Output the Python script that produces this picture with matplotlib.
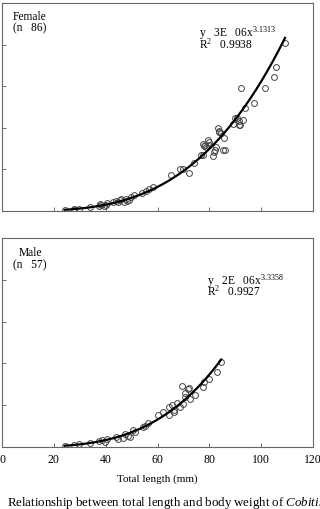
import numpy as np
import matplotlib
matplotlib.use("Agg")
import matplotlib.pyplot as plt

plt.rcParams["font.family"] = "Liberation Serif"
plt.rcParams["mathtext.fontset"] = "custom"
plt.rcParams["mathtext.rm"] = "Liberation Serif"
plt.rcParams["mathtext.it"] = "Liberation Serif:italic"

# Female: total length (mm) vs body weight (g)
female_len = [24.2, 27.7, 27.7, 29.7, 34.1, 37.4, 37.7, 38.3, 39.2, 40.0, 40.5,
              42.8, 43.8, 44.9, 45.4, 46.0, 46.9, 47.7, 48.2, 49.0, 49.9, 50.8,
              54.1, 55.6, 56.7, 58.2, 65.1, 68.7, 70.0, 72.0, 74.2, 76.7, 77.4,
              77.7, 78.0, 78.5, 78.7, 79.4, 79.7, 80.0, 81.5, 81.9, 82.3, 82.6,
              83.2, 83.6, 83.8, 84.4, 85.1, 85.8, 86.2, 89.0, 90.0, 90.5, 91.3,
              91.5, 91.8, 92.2, 93.1, 93.6, 97.2, 101.4, 105.0, 105.8, 109.2]
female_wt = [0.05, 0.10, 0.05, 0.11, 0.17, 0.25, 0.33, 0.30, 0.25, 0.29, 0.37,
             0.43, 0.46, 0.43, 0.52, 0.56, 0.44, 0.59, 0.49, 0.52, 0.65, 0.78,
             0.87, 0.97, 1.06, 1.14, 1.75, 2.02, 2.03, 1.84, 2.30, 2.67, 2.71,
             3.22, 3.11, 3.19, 3.06, 3.41, 3.30, 3.19, 2.65, 2.83, 2.94, 3.06,
             3.98, 3.78, 3.86, 3.73, 2.94, 3.51, 2.95, 4.17, 4.49, 4.49, 4.14,
             4.33, 4.14, 5.89, 4.37, 4.97, 5.21, 5.89, 6.44, 6.94, 8.08]

# Male
male_len = [24.2, 27.7, 29.7, 34.1, 37.4, 38.5, 39.6, 40.5, 43.8, 44.9, 46.7,
            47.6, 48.6, 49.2, 50.5, 51.5, 54.4, 55.3, 56.2, 60.1, 62.3, 64.4,
            64.6, 65.6, 66.2, 66.5, 67.6, 68.5, 69.6, 70.0, 70.8, 70.8, 71.7,
            72.3, 72.6, 74.6, 77.4, 78.1, 79.7, 82.9, 84.6]
male_wt = [0.06, 0.10, 0.14, 0.21, 0.29, 0.33, 0.25, 0.38, 0.49, 0.40, 0.44,
           0.60, 0.52, 0.48, 0.83, 0.70, 0.95, 1.00, 1.16, 1.54, 1.68, 1.51,
           1.90, 2.03, 1.75, 1.67, 2.10, 1.90, 2.92, 2.06, 2.38, 2.57, 2.76,
           2.83, 2.30, 2.49, 2.86, 3.10, 3.25, 3.60, 4.05]

panels = [
    (female_len, female_wt, "Female", "(n   86)", "3E", "3.1313", "0.9938"),
    (male_len, male_wt, "Male", "(n   57)", "2E", "3.3358", "0.9927"),
]

fig = plt.figure(figsize=(3.2, 5.09), dpi=100)
W, H = 320.0, 509.0
ax_top = fig.add_axes([2 / W, 1 - 211 / H, 311 / W, 208 / H])
ax_bot = fig.add_axes([2 / W, 1 - 447 / H, 311 / W, 209 / H])

for ax, (xs, ys, *_rest) in zip([ax_top, ax_bot], panels):
    xs = np.array(xs)
    ys = np.array(ys)
    ax.plot(xs, ys, "o", ms=4.2, mfc="none", mec="#444444", mew=0.7)
    # power trend line fitted on log-log
    b, lna = np.polyfit(np.log(xs), np.log(ys), 1)
    xx = np.linspace(xs.min(), xs.max(), 200)
    ax.plot(xx, np.exp(lna) * xx ** b, color="black", lw=1.6)
    ax.set_xlim(0, 120)
    ax.set_ylim(0, 10)
    ax.set_xticks([0, 20, 40, 60, 80, 100, 120])
    ax.set_yticks([0, 2, 4, 6, 8, 10])
    ax.tick_params(direction="in", length=3, width=0.6, color="#555555",
                   labelleft=False, labelsize=8.5, pad=5)
    for s in ax.spines.values():
        s.set_color("#666666")
        s.set_linewidth(0.8)

ax_top.tick_params(labelbottom=False)
ax_bot.set_xlabel("Total length (mm)", fontsize=8, labelpad=6)

def ftxt(x, y, s, size=8.3):
    fig.text(x / W, 1 - y / H, s, fontsize=size, va="baseline", ha="left")

ftxt(13, 19.5, panels[0][2])
ftxt(13, 31, panels[0][3])
ftxt(199, 37, "y   %s   06x$^{\\mathregular{%s}}$" % (panels[0][4], panels[0][5]))
ftxt(199, 49, "R$^{\\mathregular{2}}$   %s" % panels[0][6])

ftxt(19, 256.5, panels[1][2])
ftxt(13, 268, panels[1][3])
ftxt(207, 285, "y   %s   06x$^{\\mathregular{%s}}$" % (panels[1][4], panels[1][5]))
ftxt(207, 296, "R$^{\\mathregular{2}}$   %s" % panels[1][6])

ftxt(7, 506, "Relationship between total length and body weight of $\\mathit{Cobitis}$", size=9.3)

fig.savefig("out.png", dpi=100)
